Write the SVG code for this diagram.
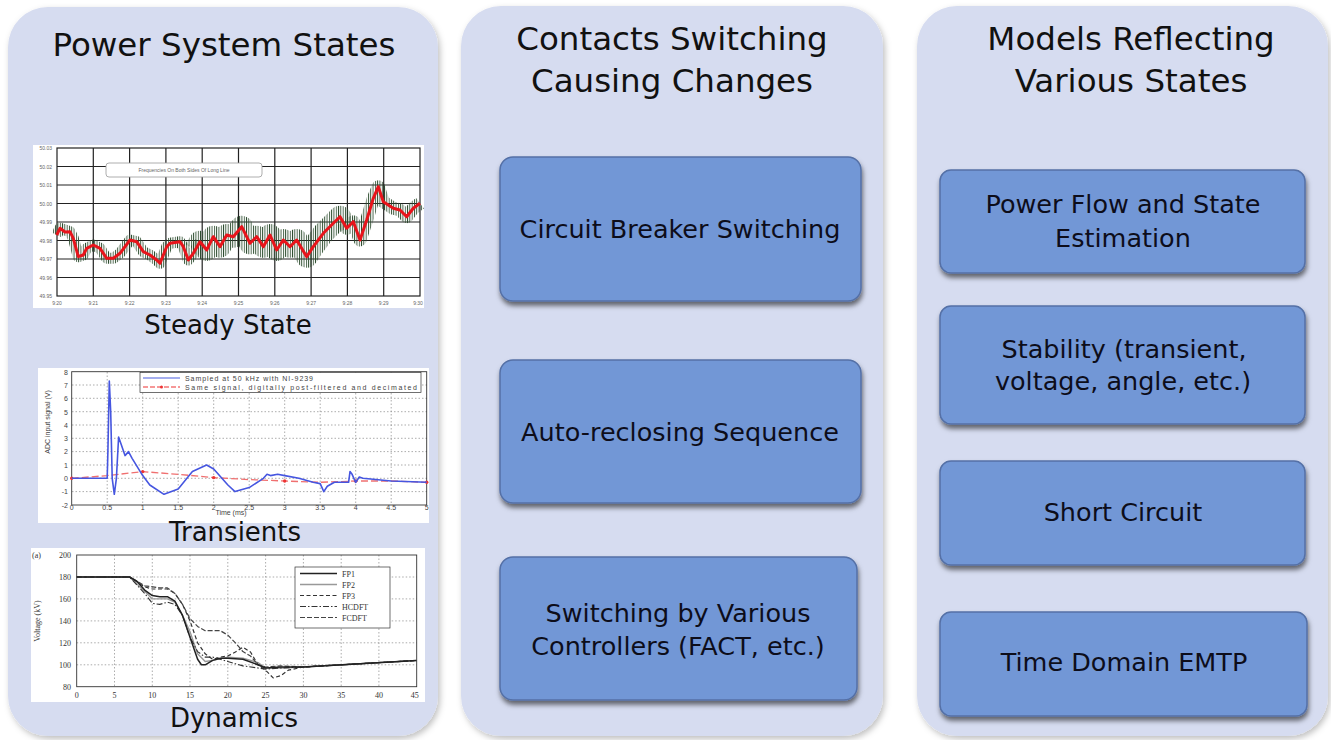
<svg xmlns="http://www.w3.org/2000/svg" width="1331" height="740" viewBox="0 0 1331 740">
<defs>
<filter id="pshadow" x="-5%" y="-5%" width="110%" height="110%"><feDropShadow dx="2" dy="3" stdDeviation="3" flood-color="#000" flood-opacity="0.25"/></filter>
<filter id="bshadow" x="-5%" y="-10%" width="110%" height="125%"><feDropShadow dx="1" dy="4" stdDeviation="2.5" flood-color="#000" flood-opacity="0.55"/></filter>
<pattern id="vlines" patternUnits="userSpaceOnUse" width="2.3" height="10">
<rect x="0" y="0" width="0.9" height="10" fill="#2a4a2c"/>
</pattern>
<style>
.panel{fill:#d6dcf0;filter:url(#pshadow)}
.box{fill:#7297d6;stroke:#5470a6;stroke-width:1.5;filter:url(#bshadow)}
.title{font-family:"DejaVu Sans","Liberation Sans",sans-serif;font-size:32.5px;fill:#111;text-anchor:middle}
.lbl{font-family:"DejaVu Sans","Liberation Sans",sans-serif;font-size:25.5px;fill:#0d0d1a;text-anchor:middle}
.cap{font-family:"DejaVu Sans","Liberation Sans",sans-serif;font-size:26px;fill:#111;text-anchor:middle}
.chartbg{fill:#fff}
.g1{stroke:#222;stroke-width:1.2;fill:none}
.g2{stroke:#888;stroke-width:0.7;stroke-dasharray:1.5 2;fill:none}
.tk{font-family:"Liberation Sans",sans-serif;font-size:5px;fill:#666}
.tk2{font-family:"Liberation Sans",sans-serif;font-size:7px;fill:#444}
.tk3{font-family:"Liberation Serif",serif;font-size:8px;fill:#333}
.noise{fill:none;stroke:url(#vlines);stroke-linejoin:round;stroke-linecap:butt}
</style>
</defs>

<g id="panel-states">
<rect class="panel" x="8" y="7" width="430" height="729" rx="40"/>
<text class="title" x="224" y="56">Power System States</text>
</g>
<g id="panel-switching">
<rect class="panel" x="461" y="6" width="422" height="730" rx="40"/>
<text class="title" x="672" y="50">Contacts Switching</text>
<text class="title" x="672" y="92">Causing Changes</text>
</g>
<g id="panel-models">
<rect class="panel" x="917" y="6" width="411" height="730" rx="40"/>
<text class="title" x="1131" y="50">Models Reflecting</text>
<text class="title" x="1131" y="92">Various States</text>
</g>

<!-- Steady state chart -->
<g id="chart-steady">
<rect class="chartbg" x="33" y="145" width="391" height="163"/>
<g class="g1">
<rect x="57" y="148" width="363" height="148"/>
<path d="M93.3,148V296M129.6,148V296M165.9,148V296M202.2,148V296M238.5,148V296M274.8,148V296M311.1,148V296M347.4,148V296M383.7,148V296M57,166.5H420M57,185H420M57,203.5H420M57,222H420M57,240.5H420M57,259H420M57,277.5H420"/>
</g>
<g class="tk" text-anchor="end">
<text x="52" y="150">50.03</text><text x="52" y="168.5">50.02</text><text x="52" y="187">50.01</text><text x="52" y="205.5">50.00</text><text x="52" y="224">49.99</text><text x="52" y="242.5">49.98</text><text x="52" y="261">49.97</text><text x="52" y="279.5">49.96</text><text x="52" y="298">49.95</text>
</g>
<g class="tk" text-anchor="middle">
<text x="57" y="305">9:20</text><text x="93.3" y="305">9:21</text><text x="129.6" y="305">9:22</text><text x="165.9" y="305">9:23</text><text x="202.2" y="305">9:24</text><text x="238.5" y="305">9:25</text><text x="274.8" y="305">9:26</text><text x="311.1" y="305">9:27</text><text x="347.4" y="305">9:28</text><text x="383.7" y="305">9:29</text><text x="418" y="305">9:30</text>
</g>
<rect x="106" y="163" width="156" height="14" rx="3" fill="#fff" stroke="#999" stroke-width="0.8"/>
<text class="tk" x="184" y="172" text-anchor="middle" font-size="5.5">Frequencies On Both Sides Of Long Line</text>
<path class="noise" stroke-width="11" d="M56.7,235 L60,228.3 70,231.7 73.3,238.3 78.3,256.7 83.3,255 86.7,248.3 93.3,245 100,248.3 106.7,258.3 113.3,258.3 120,253.3 130,240 136.7,241.7 143.3,251.7 150,255 156.7,260 160,263.3 166.7,246.7 170,243.3 180,241.7 183.3,246.7 188.3,260 193.3,253.3 200,241.7"/>
<path class="noise" stroke-width="22" d="M195,250 L200,241.7 206.7,250 213.3,236.7 220,246.7 226.7,235 233.3,236.7 241.7,226.7 250,243.3 256.7,236.7 263.3,246.7 270,235 276.7,250 283.3,240 290,246.7 296.7,240 306.7,256.7 313.3,246.7 323.3,233.3 333.3,223.3 340,216.7 346.7,228.3"/>
<path class="noise" stroke-width="13" d="M343,222 L346.7,228.3 353.3,221.7 360,240 366.7,220 373.3,198.3 378.3,186.7 383.3,201.7 393.3,208.3 400,210 406.7,216.7 413.3,208.3 420,203.3"/>
<path fill="none" stroke="#e8141b" stroke-width="3" stroke-linejoin="round" d="M56.7,235 L60,228.3 65,232 70,231.7 73.3,238.3 78.3,256.7 83.3,255 86.7,248.3 93.3,245 100,248.3 106.7,258.3 113.3,258.3 120,253.3 130,240 136.7,241.7 143.3,251.7 150,255 156.7,260 160,263.3 166.7,246.7 170,243.3 180,241.7 183.3,246.7 188.3,260 193.3,253.3 200,241.7 206.7,250 213.3,236.7 220,246.7 226.7,235 233.3,236.7 241.7,226.7 250,243.3 256.7,236.7 263.3,246.7 270,235 276.7,250 283.3,240 290,246.7 296.7,240 306.7,256.7 313.3,246.7 323.3,233.3 333.3,223.3 340,216.7 346.7,228.3 353.3,221.7 360,240 366.7,220 373.3,198.3 378.3,186.7 383.3,201.7 393.3,208.3 400,210 406.7,216.7 413.3,208.3 420,203.3"/>
</g>
<text class="cap" x="228" y="334">Steady State</text>

<!-- Transients chart -->
<g id="chart-transients">
<rect class="chartbg" x="38" y="368" width="391" height="155"/>
<path class="g2" d="M107.2,372V505M142.7,372V505M178.2,372V505M213.7,372V505M249.2,372V505M284.7,372V505M320.2,372V505M355.7,372V505M391.2,372V505M72,491.6H427M72,478.3H427M72,465H427M72,451.6H427M72,438.3H427M72,425H427M72,411.7H427M72,398.3H427M72,385H427"/>
<rect x="71.7" y="371.7" width="355" height="133.3" fill="none" stroke="#333" stroke-width="0.9"/>
<g class="tk2" text-anchor="end">
<text x="68" y="374.5">8</text><text x="68" y="387.8">7</text><text x="68" y="401.1">6</text><text x="68" y="414.5">5</text><text x="68" y="427.8">4</text><text x="68" y="441.1">3</text><text x="68" y="454.4">2</text><text x="68" y="467.8">1</text><text x="68" y="481.1">0</text><text x="68" y="494.4">-1</text><text x="68" y="507.8">-2</text>
</g>
<g class="tk2" text-anchor="middle" font-size="6">
<text x="71.7" y="509.5">0</text><text x="107.2" y="509.5">0.5</text><text x="142.7" y="509.5">1</text><text x="178.2" y="509.5">1.5</text><text x="213.7" y="509.5">2</text><text x="249.2" y="509.5">2.5</text><text x="284.7" y="509.5">3</text><text x="320.2" y="509.5">3.5</text><text x="355.7" y="509.5">4</text><text x="391.2" y="509.5">4.5</text><text x="426.7" y="509.5">5</text>
</g>
<text class="tk2" x="231" y="514.8" text-anchor="middle" font-size="5">Time (ms)</text>
<text class="tk2" transform="translate(50,422) rotate(-90)" text-anchor="middle" font-size="6.5">ADC input signal (V)</text>
<rect x="140" y="372.5" width="281" height="20" fill="#fff" stroke="#333" stroke-width="0.7"/>
<line x1="143" y1="378" x2="180" y2="378" stroke="#4a5ee0" stroke-width="1.2"/>
<line x1="143" y1="387" x2="180" y2="387" stroke="#e33" stroke-width="1.2" stroke-dasharray="5 2"/>
<circle cx="161.5" cy="387" r="1.5" fill="#e33"/>
<text class="tk2" x="185" y="380.5" font-size="7.5" textLength="128">Sampled at 50 kHz with NI-9239</text>
<text class="tk2" x="185" y="389.5" font-size="7.5" textLength="232">Same signal, digitally post-filtered and decimated</text>
<polyline fill="none" stroke="#f07070" stroke-width="1.3" stroke-dasharray="7 3" points="71.7,478.3 107.2,475.6 142.7,471.6 178.2,474.3 213.7,477.6 249.2,479.6 284.7,481 320.2,482.3 355.7,481 391.2,481 426.7,482.3"/>
<g fill="#e33"><circle cx="71.7" cy="478.3" r="1.7"/><circle cx="142.7" cy="471.6" r="1.7"/><circle cx="213.7" cy="477.6" r="1.7"/><circle cx="284.7" cy="481" r="1.7"/><circle cx="355.7" cy="481" r="1.7"/><circle cx="426.7" cy="482.3" r="1.7"/></g>
<polyline fill="none" stroke="#4656e0" stroke-width="1.6" stroke-linejoin="round" points="71.7,478.3 107.2,478.3 107.9,451.6 109.3,381 110.7,411.7 112.2,478.3 114.3,494.3 116.4,478.3 118.6,437 121.4,445 125,455.6 128.5,451.6 132.1,458.3 142.7,475.6 149.8,485 164,494.3 178.2,489 192.4,471.6 206.6,465 213.7,469 227.9,485 235,491.6 249.2,487.6 263.4,478.3 267,474.3 270.5,475.6 277.6,474.3 284.7,475.6 298.9,478.3 313.1,482.3 320.2,483.6 323.8,491.6 327.3,486.3 334.4,482.3 348.6,482.3 350,471.6 352.1,474.3 355.7,482.3 359.3,477 362.8,478.3 391.2,481 426.7,482.3"/>
</g>
<text class="cap" x="235" y="540.5">Transients</text>

<!-- Dynamics chart -->
<g id="chart-dynamics">
<rect class="chartbg" x="31" y="548" width="394" height="154"/>
<path class="g2" d="M114.5,555V686.7M152.3,555V686.7M190,555V686.7M227.8,555V686.7M265.6,555V686.7M303.4,555V686.7M341.2,555V686.7M378.9,555V686.7M76.7,664.8H416.7M76.7,642.8H416.7M76.7,620.9H416.7M76.7,598.9H416.7M76.7,577H416.7"/>
<rect x="76.7" y="555" width="340" height="131.7" fill="none" stroke="#333" stroke-width="0.9"/>
<text class="tk3" x="32" y="558">(a)</text>
<g class="tk3" text-anchor="end">
<text x="71" y="558">200</text><text x="71" y="580">180</text><text x="71" y="602">160</text><text x="71" y="624">140</text><text x="71" y="646">120</text><text x="71" y="668">100</text><text x="71" y="690">80</text>
</g>
<g class="tk3" text-anchor="middle">
<text x="76.7" y="698">0</text><text x="114.5" y="698">5</text><text x="152.3" y="698">10</text><text x="190" y="698">15</text><text x="227.8" y="698">20</text><text x="265.6" y="698">25</text><text x="303.4" y="698">30</text><text x="341.2" y="698">35</text><text x="378.9" y="698">40</text><text x="414.7" y="698">45</text>
</g>
<text class="tk3" transform="translate(40,621) rotate(-90)" text-anchor="middle">Voltage (kV)</text>
<g fill="none" stroke-linejoin="round">
<polyline stroke="#999" stroke-width="1.4" points="76.7,577 129.6,577 144.7,591.2 152.3,598.9 167.4,598.9 174.9,602.2 182.5,615.4 190,631.8 197.6,653.8 205.2,661.5 212.7,660.4 227.8,657.1 242.9,658.2 258,662.6 265.6,668 280.7,668 303.4,667 416.7,660.4"/>
<polyline stroke="#333" stroke-width="1.1" stroke-dasharray="6 2 1.5 2" points="76.7,577 129.6,577 144.7,593.4 152.3,603.3 159.8,604.4 167.4,602.2 174.9,604.4 182.5,615.4 190,637.3 197.6,651.6 205.2,657.1 212.7,657.1 227.8,661.5 242.9,665.9 258,668 265.6,669.1 280.7,668 303.4,667 416.7,660.4"/>
<polyline stroke="#333" stroke-width="1.2" stroke-dasharray="4 2.5" points="76.7,577 129.6,577 144.7,586.9 152.3,589 167.4,589 174.9,593.4 182.5,604.4 190,620.9 197.6,642.8 205.2,653.8 212.7,659.3 220.3,657.1 227.8,656 235.4,652 242.9,647.2 250.5,652 258,664.8 265.6,670.2 273.2,677.9 280.7,675.7 288.3,670.2 303.4,667 416.7,660.4"/>
<polyline stroke="#444" stroke-width="1.2" stroke-dasharray="5 2" points="76.7,577 129.6,577 144.7,585.8 159.8,587.9 167.4,587.9 174.9,593.4 182.5,604.4 190,618.7 197.6,626.4 205.2,630.7 220.3,630.7 227.8,635.1 235.4,642.8 242.9,651.6 250.5,656 258,664.8 265.6,667 280.7,665.9 303.4,667 416.7,660.4"/>
<polyline stroke="#222" stroke-width="1.5" points="76.7,577 129.6,577 137.1,581.4 144.7,590.1 152.3,595.6 159.8,596.7 167.4,596.7 174.9,601.1 182.5,615.4 190,637.3 197.6,659.3 201.4,664.8 205.2,664.8 212.7,660.4 220.3,658.2 227.8,658.2 242.9,659.3 258,664.8 265.6,668 280.7,667 303.4,667 416.7,660.4"/>
</g>
<rect x="295" y="567" width="95" height="61" fill="#fff" stroke="#333" stroke-width="0.7"/>
<g fill="none">
<line x1="300" y1="573.5" x2="337" y2="573.5" stroke="#222" stroke-width="1.5"/>
<line x1="300" y1="584.5" x2="337" y2="584.5" stroke="#999" stroke-width="1.4"/>
<line x1="300" y1="595.5" x2="337" y2="595.5" stroke="#333" stroke-width="1.2" stroke-dasharray="4 2.5"/>
<line x1="300" y1="606.5" x2="337" y2="606.5" stroke="#333" stroke-width="1.1" stroke-dasharray="6 2 1.5 2"/>
<line x1="300" y1="617.5" x2="337" y2="617.5" stroke="#444" stroke-width="1.2" stroke-dasharray="5 2"/>
</g>
<g class="tk3">
<text x="342" y="576.5">FP1</text><text x="342" y="587.5">FP2</text><text x="342" y="598.5">FP3</text><text x="342" y="609.5">HCDFT</text><text x="342" y="620.5">FCDFT</text>
</g>
</g>
<text class="cap" x="234" y="727">Dynamics</text>

<!-- middle boxes -->
<g id="node-cb">
<rect class="box" x="500" y="157" width="361" height="144" rx="13"/>
<text class="lbl" x="680" y="238">Circuit Breaker Switching</text>
</g>
<g id="node-ar">
<rect class="box" x="500" y="360" width="361" height="143" rx="13"/>
<text class="lbl" x="680" y="441">Auto-reclosing Sequence</text>
</g>
<g id="node-ctrl">
<rect class="box" x="500" y="557" width="357" height="143" rx="13"/>
<text class="lbl" x="678" y="622">Switching by Various</text>
<text class="lbl" x="678" y="655">Controllers (FACT, etc.)</text>
</g>

<!-- right boxes -->
<g id="node-pf">
<rect class="box" x="940" y="170" width="365" height="103" rx="11"/>
<text class="lbl" x="1123" y="213">Power Flow and State</text>
<text class="lbl" x="1123" y="247">Estimation</text>
</g>
<g id="node-stab">
<rect class="box" x="940" y="306" width="365" height="118" rx="11"/>
<text class="lbl" x="1124" y="358">Stability (transient,</text>
<text class="lbl" x="1123" y="390">voltage, angle, etc.)</text>
</g>
<g id="node-sc">
<rect class="box" x="940" y="461" width="365" height="104" rx="11"/>
<text class="lbl" x="1123" y="521">Short Circuit</text>
</g>
<g id="node-emtp">
<rect class="box" x="940" y="612" width="367" height="104" rx="11"/>
<text class="lbl" x="1124" y="671">Time Domain EMTP</text>
</g>
</svg>
